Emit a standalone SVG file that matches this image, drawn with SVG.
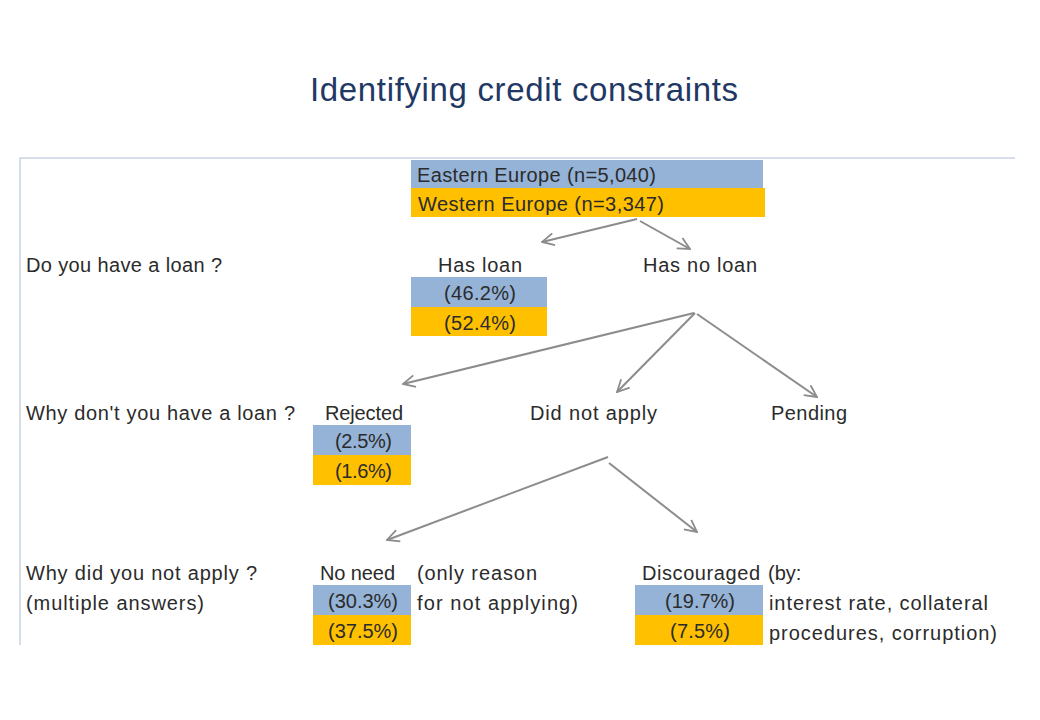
<svg xmlns="http://www.w3.org/2000/svg" width="1040" height="720" viewBox="0 0 1040 720">
<style>
text{font-family:"Liberation Sans",Arial,sans-serif;font-size:20px;fill:#2b2b2b}
.title{font-size:33px;fill:#1F3864}
.blue{fill:#95B3D7}
.orange{fill:#FFC000}
.frame{stroke:#C9D3E3;stroke-width:1.5;fill:none}
.arrow{stroke:#8C8C8C;stroke-width:2;fill:none;marker-end:url(#ah)}
</style>
<defs>
<marker id="ah" viewBox="0 0 14 14" refX="13" refY="7" markerWidth="14" markerHeight="14" markerUnits="userSpaceOnUse" orient="auto">
<path d="M1,1 L13,7 L1,13" fill="none" stroke="#8C8C8C" stroke-width="1.8"/>
</marker>
</defs>
<rect width="1040" height="720" fill="#fff"/>
<text class="title" x="310" y="101" textLength="428">Identifying credit constraints</text>
<path class="frame" d="M20,645 V158 H1015"/>

<g id="root">
<rect class="blue" x="411" y="160" width="352" height="28"/>
<rect class="orange" x="411" y="188" width="354" height="29"/>
<text x="417" y="182" textLength="239">Eastern Europe (n=5,040)</text>
<text x="418" y="211" textLength="246">Western Europe (n=3,347)</text>
</g>

<g id="q1"><text x="26" y="272" textLength="196">Do you have a loan ?</text></g>
<g id="hasloan">
<text x="438" y="272" textLength="84">Has loan</text>
<rect class="blue" x="411" y="277" width="136" height="30"/>
<rect class="orange" x="411" y="307" width="136" height="29"/>
<text x="444" y="300" textLength="72">(46.2%)</text>
<text x="444" y="330" textLength="72">(52.4%)</text>
</g>
<g id="hasnoloan"><text x="643" y="272" textLength="114">Has no loan</text></g>

<g id="q2"><text x="26" y="420" textLength="269">Why don't you have a loan ?</text></g>
<g id="rejected">
<text x="325" y="420" textLength="78">Rejected</text>
<rect class="blue" x="313" y="425" width="98" height="30"/>
<rect class="orange" x="313" y="455" width="98" height="30"/>
<text x="335" y="448" textLength="57">(2.5%)</text>
<text x="335" y="478" textLength="57">(1.6%)</text>
</g>
<g id="didnotapply"><text x="530" y="420" textLength="127">Did not apply</text></g>
<g id="pending"><text x="771" y="420" textLength="76">Pending</text></g>

<g id="q3">
<text x="26" y="580" textLength="231">Why did you not apply ?</text>
<text x="26" y="610" textLength="178">(multiple answers)</text>
</g>
<g id="noneed">
<text x="320" y="580" textLength="75">No need</text>
<rect class="blue" x="313" y="585" width="98" height="30"/>
<rect class="orange" x="313" y="615" width="98" height="30"/>
<text x="328" y="608" textLength="70">(30.3%)</text>
<text x="328" y="638" textLength="70">(37.5%)</text>
<text x="417" y="580" textLength="120">(only reason</text>
<text x="417" y="610" textLength="161">for not applying)</text>
</g>
<g id="discouraged">
<text x="642" y="580" textLength="118">Discouraged</text>
<rect class="blue" x="635" y="585" width="128" height="30"/>
<rect class="orange" x="635" y="615" width="128" height="30"/>
<text x="665" y="608" textLength="70">(19.7%)</text>
<text x="670" y="638" textLength="60">(7.5%)</text>
<text x="768" y="580">(by:</text>
<text x="769" y="610" textLength="219">interest rate, collateral</text>
<text x="769" y="640" textLength="228">procedures, corruption)</text>
</g>

<g id="connectors">
<line class="arrow" x1="637" y1="219" x2="542" y2="242"/>
<line class="arrow" x1="640" y1="221" x2="690" y2="249"/>
<line class="arrow" x1="694" y1="313" x2="403" y2="384"/>
<line class="arrow" x1="695" y1="313" x2="617" y2="392"/>
<line class="arrow" x1="697" y1="314" x2="817" y2="397"/>
<line class="arrow" x1="608" y1="457" x2="387" y2="540"/>
<line class="arrow" x1="609" y1="463" x2="697" y2="532"/>
</g>
</svg>
